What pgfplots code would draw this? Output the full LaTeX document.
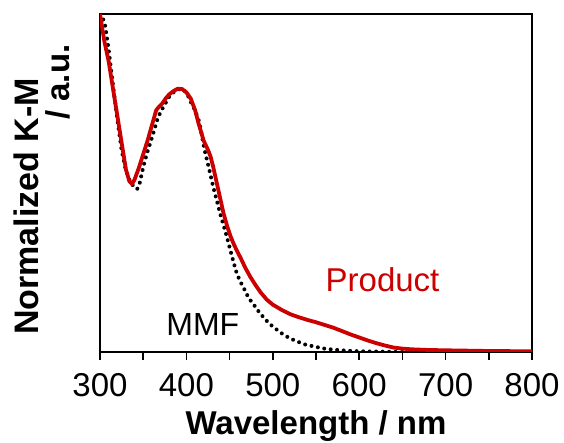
\documentclass[border=0pt]{standalone}
\usepackage{fontspec}
\setmainfont{Liberation Sans}
\usepackage{pgfplots}
\pgfplotsset{compat=1.18}
\usetikzlibrary{calc}
\definecolor{prodred}{RGB}{204,0,0}

% Kubelka-Munk spectra, normalized
\pgfplotstableread{
lambda km
300 1.000
303 0.990
306 0.965
310 0.895
315 0.790
320 0.690
325 0.597
330 0.537
335 0.503
340 0.487
343 0.482
346 0.500
350 0.547
354 0.585
358 0.617
362 0.650
366 0.685
370 0.710
374 0.728
380 0.755
385 0.768
390 0.777
395 0.778
400 0.768
406 0.735
410 0.715
415 0.680
421 0.598
426 0.545
431 0.489
435 0.450
439 0.410
443 0.375
447 0.339
451 0.300
455 0.262
458 0.235
462 0.210
466 0.191
472 0.160
478 0.140
485 0.115
493 0.092
500 0.075
512 0.052
520 0.040
536 0.023
550 0.015
560 0.010
570 0.007
585 0.004
600 0.002
650 0.000
700 0.000
}\mmf

\pgfplotstableread{
lambda km
300 1.000
305 0.920
310 0.860
315 0.780
320 0.700
325 0.620
330 0.540
334 0.505
337 0.497
340 0.510
345 0.545
350 0.585
355 0.625
360 0.670
365 0.715
368 0.725
372 0.735
376 0.750
380 0.762
385 0.772
390 0.779
395 0.778
400 0.768
405 0.750
410 0.716
414 0.677
420 0.625
425 0.598
428 0.578
431 0.548
437 0.479
443 0.410
447 0.374
451 0.343
455 0.318
459 0.297
463 0.277
468 0.250
474 0.222
480 0.198
486 0.176
493 0.155
500 0.140
510 0.125
520 0.112
530 0.103
540 0.095
550 0.088
560 0.080
570 0.072
580 0.062
590 0.052
600 0.043
610 0.034
620 0.026
630 0.019
640 0.013
650 0.010
660 0.008
680 0.006
700 0.005
750 0.003
800 0.002
}\product

\begin{document}
\begin{tikzpicture}
\begin{axis}[
  scale only axis,
  width=432pt, height=338pt,
  xmin=300, xmax=800, ymin=0, ymax=1,
  xtick={300,400,...,800},
  minor x tick num=1,
  ytick=\empty,
  xtick pos=lower,
  tick align=outside,
  major tick length=8pt,
  minor tick length=8pt,
  axis line style={line width=1.6pt},
  tick style={line width=1.6pt, black},
  /pgf/number format/assume math mode=true,
  xticklabel style={font=\fontsize{33}{36}\selectfont, anchor=north, inner sep=0pt, yshift=-13pt},
  xlabel={Wavelength / nm},
  xlabel style={font=\fontsize{33}{36}\selectfont\bfseries,
    at={(axis description cs:0.5,0)}, anchor=base, inner sep=0pt, yshift=-83pt},
]
\addplot[black, line width=4pt, line cap=round,
  dash pattern=on 0pt off 6.5pt] table[x=lambda, y=km] {\mmf};
\addplot[prodred, line width=3.8pt, line join=round] table[x=lambda, y=km] {\product};
\node[font=\fontsize{32}{36}\selectfont, anchor=base, inner sep=0pt]
  at (axis cs:419,0.050) {MMF};
\node[font=\fontsize{33}{36}\selectfont, anchor=base, inner sep=0pt, text=prodred]
  at (axis cs:627,0.180) {Product};
\coordinate (O) at (rel axis cs:0,0);
\end{axis}
\node[rotate=90, anchor=base west, inner sep=0pt, font=\fontsize{34}{36}\selectfont\bfseries]
  at ($(O)+(-61pt,17pt)$) {Normalized K-M};
\node[rotate=90, anchor=base west, inner sep=0pt, font=\fontsize{33}{36}\selectfont\bfseries]
  at ($(O)+(-30pt,232pt)$) {/ a.u.};
\pgfresetboundingbox
\path ($(O)+(-100pt,-91pt)$) rectangle ($(O)+(464pt,352pt)$);
\end{tikzpicture}
\end{document}
